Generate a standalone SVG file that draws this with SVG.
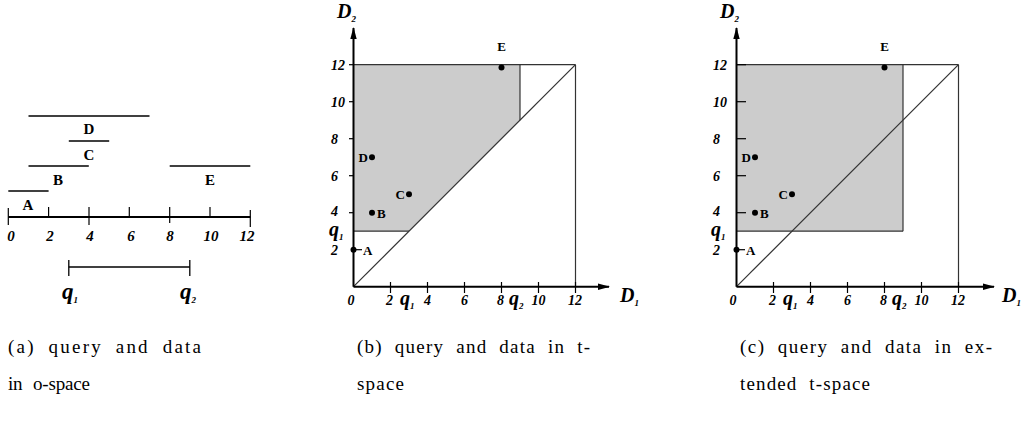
<svg xmlns="http://www.w3.org/2000/svg" width="1021" height="427" viewBox="0 0 1021 427">
<style>
.num{font-family:"Liberation Serif",serif;font-style:italic;font-weight:bold;font-size:14px;fill:#000}
.numa{font-family:"Liberation Serif",serif;font-style:italic;font-weight:bold;font-size:15px;fill:#000}
.lab{font-family:"Liberation Serif",serif;font-weight:bold;font-size:13px;fill:#000}
.laba{font-family:"Liberation Serif",serif;font-weight:bold;font-size:15px;fill:#000}
.q{font-family:"Liberation Serif",serif;font-style:italic;font-weight:bold;font-size:20px;fill:#000}
.qa{font-family:"Liberation Serif",serif;font-style:italic;font-weight:bold;font-size:23px;fill:#000}
.sub{font-size:9px}
.ax{font-family:"Liberation Serif",serif;font-style:italic;font-weight:bold;font-size:20px;fill:#000}
.cap{font-family:"Liberation Serif",serif;font-size:19px;fill:#000;word-spacing:6px}
.axis{stroke:#000;stroke-width:2;fill:none}
.tick{stroke:#000;stroke-width:1.2;fill:none}
.thin{stroke:#333;stroke-width:1.2;fill:none}
.seg{stroke:#000;stroke-width:1.3;fill:none}
.shade{fill:#cccccc;stroke:none}
</style>
<defs>
<marker id="ah" markerWidth="12" markerHeight="8" refX="11" refY="4" orient="auto" markerUnits="userSpaceOnUse">
<path d="M0,0.8 L12,4 L0,7.2 Z" fill="#000"/>
</marker>
</defs>
<rect width="1021" height="427" fill="#fff"/>

<!-- Panel (a) -->
<g id="panel-a">
  <g id="a-axis">
    <line class="axis" x1="8.3" y1="217" x2="250.5" y2="217" stroke-width="2.6"/>
    <line class="tick" x1="8.3" y1="208" x2="8.3" y2="225"/>
    <line class="tick" x1="48.6" y1="207" x2="48.6" y2="217"/>
    <line class="tick" x1="89" y1="207" x2="89" y2="225"/>
    <line class="tick" x1="129.3" y1="207" x2="129.3" y2="217"/>
    <line class="tick" x1="169.7" y1="207" x2="169.7" y2="223"/>
    <line class="tick" x1="210" y1="207" x2="210" y2="217"/>
    <line class="tick" x1="250.3" y1="210" x2="250.3" y2="227"/>
    <text class="numa" x="11" y="241" text-anchor="middle">0</text>
    <text class="numa" x="50" y="241" text-anchor="middle">2</text>
    <text class="numa" x="90" y="241" text-anchor="middle">4</text>
    <text class="numa" x="131" y="241" text-anchor="middle">6</text>
    <text class="numa" x="170" y="241" text-anchor="middle">8</text>
    <text class="numa" x="211" y="241" text-anchor="middle">10</text>
    <text class="numa" x="247" y="241" text-anchor="middle">12</text>
  </g>
  <g id="a-A"><line class="seg" x1="8.3" y1="191" x2="48.6" y2="191"/><text class="laba" x="28" y="210" text-anchor="middle">A</text></g>
  <g id="a-B"><line class="seg" x1="28.5" y1="166" x2="88.8" y2="166"/><text class="laba" x="58" y="185" text-anchor="middle">B</text></g>
  <g id="a-C"><line class="seg" x1="68.8" y1="141" x2="109.2" y2="141"/><text class="laba" x="89" y="160" text-anchor="middle">C</text></g>
  <g id="a-D"><line class="seg" x1="28.5" y1="116" x2="149.5" y2="116"/><text class="laba" x="89" y="134" text-anchor="middle">D</text></g>
  <g id="a-E"><line class="seg" x1="169.7" y1="166" x2="250.3" y2="166"/><text class="laba" x="210" y="185" text-anchor="middle">E</text></g>
  <g id="a-query">
    <line class="seg" x1="68.8" y1="267" x2="189.8" y2="267"/>
    <line class="seg" x1="68.8" y1="260" x2="68.8" y2="276"/>
    <line class="seg" x1="189.8" y1="260" x2="189.8" y2="276"/>
    <text class="qa" x="62" y="299">q<tspan class="sub" dy="4">1</tspan></text>
    <text class="qa" x="180" y="299">q<tspan class="sub" dy="4">2</tspan></text>
  </g>
</g>

<!-- Panel (b) -->
<g id="panel-b">
  <polygon id="b-region" class="shade" points="353.5,231.2 409,231.2 520,120.2 520,64.7 353.5,64.7"/>
  <g id="b-lines">
    <line class="thin" x1="353.5" y1="64.7" x2="575.5" y2="64.7"/>
    <line class="thin" x1="575.5" y1="64.7" x2="575.5" y2="286.7"/>
    <line class="thin" x1="353.5" y1="286.7" x2="575.5" y2="64.7"/>
    <line class="thin" x1="520" y1="64.7" x2="520" y2="120.2"/>
    <line class="thin" x1="353.5" y1="231.2" x2="409" y2="231.2"/>
  </g>
  <g id="b-axes">
    <line class="axis" x1="353.5" y1="286.7" x2="353.5" y2="28" marker-end="url(#ah)"/>
    <line class="axis" x1="353.5" y1="286.7" x2="609" y2="286.7" marker-end="url(#ah)"/>
    <line class="tick" x1="349" y1="64.7" x2="354" y2="64.7"/>
    <line class="tick" x1="349" y1="101.7" x2="354" y2="101.7"/>
    <line class="tick" x1="349" y1="138.7" x2="354" y2="138.7"/>
    <line class="tick" x1="349" y1="175.7" x2="354" y2="175.7"/>
    <line class="tick" x1="349" y1="212.7" x2="354" y2="212.7"/>
    <line class="tick" x1="390.5" y1="282" x2="390.5" y2="293"/>
    <line class="tick" x1="427.5" y1="282" x2="427.5" y2="293"/>
    <line class="tick" x1="464.5" y1="282" x2="464.5" y2="293"/>
    <line class="tick" x1="501.5" y1="282" x2="501.5" y2="293"/>
    <line class="tick" x1="538.5" y1="282" x2="538.5" y2="293"/>
    <line class="tick" x1="575.5" y1="282" x2="575.5" y2="293"/>
    <text class="num" x="331" y="70">12</text>
    <text class="num" x="331" y="107">10</text>
    <text class="num" x="331" y="144">8</text>
    <text class="num" x="331" y="181">6</text>
    <text class="num" x="331" y="216">4</text>
    <text class="q" x="329" y="236">q<tspan class="sub" dy="4">1</tspan></text>
    <text class="num" x="331" y="255">2</text>
    <text class="num" x="351" y="305" text-anchor="middle">0</text>
    <text class="num" x="389.5" y="305" text-anchor="middle">2</text>
    <text class="q" x="400" y="305">q<tspan class="sub" dy="4">1</tspan></text>
    <text class="num" x="427.5" y="305" text-anchor="middle">4</text>
    <text class="num" x="464.5" y="305" text-anchor="middle">6</text>
    <text class="num" x="500.5" y="305" text-anchor="middle">8</text>
    <text class="q" x="509" y="305">q<tspan class="sub" dy="4">2</tspan></text>
    <text class="num" x="538.5" y="305" text-anchor="middle">10</text>
    <text class="num" x="575" y="305" text-anchor="middle">12</text>
    <text class="ax" x="337" y="18">D<tspan class="sub" dy="4">2</tspan></text>
    <text class="ax" x="620" y="302">D<tspan class="sub" dy="4">1</tspan></text>
  </g>
  <g id="b-A"><circle cx="353.5" cy="249.7" r="3"/><line class="tick" x1="353.5" y1="249.7" x2="362" y2="249.7"/><text class="lab" x="363" y="254.5">A</text></g>
  <g id="b-B"><circle cx="372" cy="212.7" r="3"/><text class="lab" x="377" y="217.5">B</text></g>
  <g id="b-C"><circle cx="409" cy="194.2" r="3"/><text class="lab" x="405" y="199" text-anchor="end">C</text></g>
  <g id="b-D"><circle cx="372" cy="157.2" r="3"/><text class="lab" x="368" y="162" text-anchor="end">D</text></g>
  <g id="b-E"><circle cx="501.5" cy="67.5" r="3"/><text class="lab" x="501.5" y="51" text-anchor="middle">E</text></g>
</g>

<!-- Panel (c) -->
<g id="panel-c">
  <rect id="c-region" class="shade" x="736.5" y="64.7" width="166.5" height="166.5"/>
  <g id="c-lines">
    <line class="thin" x1="736.5" y1="64.7" x2="958.5" y2="64.7"/>
    <line class="thin" x1="958.5" y1="64.7" x2="958.5" y2="286.7"/>
    <line class="thin" x1="736.5" y1="286.7" x2="958.5" y2="64.7"/>
    <line class="thin" x1="903" y1="64.7" x2="903" y2="231.2"/>
    <line class="thin" x1="736.5" y1="231.2" x2="903" y2="231.2"/>
  </g>
  <g id="c-axes">
    <line class="axis" x1="736.5" y1="286.7" x2="736.5" y2="28" marker-end="url(#ah)"/>
    <line class="axis" x1="736.5" y1="286.7" x2="994" y2="286.7" marker-end="url(#ah)"/>
    <line class="tick" x1="736.5" y1="64.7" x2="746" y2="64.7"/>
    <line class="tick" x1="736.5" y1="101.7" x2="746" y2="101.7"/>
    <line class="tick" x1="736.5" y1="138.7" x2="746" y2="138.7"/>
    <line class="tick" x1="736.5" y1="175.7" x2="746" y2="175.7"/>
    <line class="tick" x1="736.5" y1="212.7" x2="746" y2="212.7"/>
    <line class="tick" x1="773.5" y1="282" x2="773.5" y2="293"/>
    <line class="tick" x1="810.5" y1="282" x2="810.5" y2="293"/>
    <line class="tick" x1="847.5" y1="282" x2="847.5" y2="293"/>
    <line class="tick" x1="884.5" y1="282" x2="884.5" y2="293"/>
    <line class="tick" x1="921.5" y1="282" x2="921.5" y2="293"/>
    <line class="tick" x1="958.5" y1="282" x2="958.5" y2="293"/>
    <text class="num" x="713" y="70">12</text>
    <text class="num" x="713" y="107">10</text>
    <text class="num" x="713" y="144">8</text>
    <text class="num" x="713" y="181">6</text>
    <text class="num" x="713" y="216">4</text>
    <text class="q" x="711" y="236">q<tspan class="sub" dy="4">1</tspan></text>
    <text class="num" x="713" y="255">2</text>
    <text class="num" x="733" y="305" text-anchor="middle">0</text>
    <text class="num" x="772.5" y="305" text-anchor="middle">2</text>
    <text class="q" x="783" y="305">q<tspan class="sub" dy="4">1</tspan></text>
    <text class="num" x="810.5" y="305" text-anchor="middle">4</text>
    <text class="num" x="847.5" y="305" text-anchor="middle">6</text>
    <text class="num" x="883.5" y="305" text-anchor="middle">8</text>
    <text class="q" x="892" y="305">q<tspan class="sub" dy="4">2</tspan></text>
    <text class="num" x="921.5" y="305" text-anchor="middle">10</text>
    <text class="num" x="958" y="305" text-anchor="middle">12</text>
    <text class="ax" x="720" y="18">D<tspan class="sub" dy="4">2</tspan></text>
    <text class="ax" x="1002" y="302">D<tspan class="sub" dy="4">1</tspan></text>
  </g>
  <g id="c-A"><circle cx="736.5" cy="249.7" r="3"/><line class="tick" x1="736.5" y1="249.7" x2="745" y2="249.7"/><text class="lab" x="746" y="254.5">A</text></g>
  <g id="c-B"><circle cx="755" cy="212.7" r="3"/><text class="lab" x="760" y="217.5">B</text></g>
  <g id="c-C"><circle cx="792" cy="194.2" r="3"/><text class="lab" x="788" y="199" text-anchor="end">C</text></g>
  <g id="c-D"><circle cx="755" cy="157.2" r="3"/><text class="lab" x="751" y="162" text-anchor="end">D</text></g>
  <g id="c-E"><circle cx="884.5" cy="67.5" r="3"/><text class="lab" x="884.5" y="51" text-anchor="middle">E</text></g>
</g>

<!-- Captions -->
<g id="captions">
  <text class="cap" x="8" y="353" textLength="193" lengthAdjust="spacing">(a) query and data</text>
  <text class="cap" x="8" y="390" textLength="82" lengthAdjust="spacing">in o-space</text>
  <text class="cap" x="357" y="353" textLength="233" lengthAdjust="spacing">(b) query and data in t-</text>
  <text class="cap" x="357" y="390" textLength="47" lengthAdjust="spacing">space</text>
  <text class="cap" x="740" y="353" textLength="252" lengthAdjust="spacing">(c) query and data in ex-</text>
  <text class="cap" x="740" y="390" textLength="130" lengthAdjust="spacing">tended t-space</text>
</g>
</svg>
